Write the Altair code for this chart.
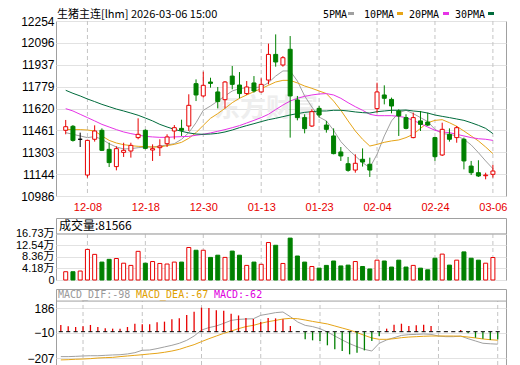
import altair as alt
import pandas as pd

# ---------------- data ----------------
dates = ["12-03", "12-04", "12-05", "12-08", "12-09", "12-10", "12-11", "12-12", "12-15", "12-16",
         "12-17", "12-18", "12-19", "12-22", "12-23", "12-24", "12-25", "12-26", "12-29", "12-30",
         "12-31", "01-05", "01-06", "01-07", "01-08", "01-09", "01-12", "01-13", "01-14", "01-15",
         "01-16", "01-19", "01-20", "01-21", "01-22", "01-23", "01-26", "01-27", "01-28", "01-29",
         "01-30", "02-02", "02-03", "02-04", "02-05", "02-06", "02-09", "02-10", "02-11", "02-12",
         "02-13", "02-24", "02-25", "02-26", "02-27", "03-02", "03-03", "03-04", "03-05", "03-06"]

open_ = [11462, 11491, 11397, 11138, 11397, 11462, 11324, 11199, 11302, 11312, 11409, 11462, 11319, 11336, 11365,
         11457, 11476, 11493, 11800, 11711, 11812, 11740, 11684, 11855, 11790, 11728, 11805, 11740, 11826, 12012,
         11935, 12049, 11682, 11554, 11493, 11621, 11500, 11421, 11305, 11220, 11174, 11252, 11216, 11619, 11718,
         11686, 11602, 11554, 11409, 11530, 11522, 11409, 11283, 11433, 11409, 11397, 11203, 11155, 11133, 11143]
high = [11537, 11500, 11445, 11394, 11498, 11476, 11372, 11346, 11372, 11372, 11549, 11469, 11360, 11397, 11433,
        11500, 11539, 11723, 11831, 11887, 11843, 11776, 11819, 11928, 11884, 11819, 11855, 11839, 12090, 12157,
        12000, 12145, 11711, 11578, 11614, 11638, 11530, 11476, 11341, 11269, 11288, 11331, 11264, 11807, 11788,
        11699, 11614, 11578, 11590, 11602, 11590, 11414, 11517, 11476, 11493, 11409, 11240, 11245, 11155, 11211]
low = [11433, 11380, 11341, 11119, 11380, 11312, 11196, 11172, 11269, 11264, 11397, 11324, 11240, 11276, 11341,
       11397, 11421, 11457, 11674, 11699, 11771, 11621, 11621, 11759, 11694, 11718, 11735, 11735, 11795, 11923,
       11923, 11409, 11534, 11440, 11486, 11554, 11445, 11288, 11240, 11162, 11155, 11199, 11124, 11590, 11650,
       11585, 11421, 11469, 11404, 11457, 11493, 11240, 11276, 11380, 11372, 11179, 11138, 11124, 11107, 11119]
close = [11488, 11389, 11397, 11389, 11457, 11317, 11228, 11329, 11317, 11353, 11433, 11331, 11329, 11348, 11414,
         11481, 11462, 11643, 11718, 11788, 11802, 11670, 11812, 11795, 11728, 11776, 11747, 11795, 12012, 11957,
         11988, 11711, 11554, 11474, 11597, 11573, 11469, 11293, 11276, 11172, 11223, 11232, 11174, 11740, 11694,
         11638, 11566, 11476, 11554, 11505, 11500, 11271, 11469, 11397, 11481, 11240, 11155, 11131, 11138, 11167]

ma5 = [11445, 11433, 11421, 11409, 11416, 11397, 11365, 11341, 11327, 11329, 11336, 11341, 11341, 11348, 11356,
       11365, 11397, 11445, 11517, 11607, 11638, 11674, 11711, 11747, 11764, 11771, 11771, 11776, 11807, 11855,
       11892, 11892, 11819, 11711, 11631, 11558, 11530, 11462, 11380, 11324, 11276, 11228, 11191, 11288, 11421,
       11530, 11590, 11607, 11583, 11554, 11525, 11469, 11438, 11433, 11421, 11397, 11356, 11300, 11240, 11184]
ma10 = [11469, 11467, 11467, 11464, 11457, 11421, 11389, 11370, 11358, 11351, 11346, 11344, 11341, 11341, 11351,
        11360, 11375, 11404, 11445, 11498, 11549, 11583, 11621, 11662, 11694, 11718, 11742, 11764, 11788, 11812,
        11824, 11824, 11805, 11783, 11766, 11747, 11728, 11674, 11607, 11530, 11457, 11397, 11348, 11360, 11375,
        11385, 11392, 11409, 11433, 11476, 11517, 11534, 11539, 11517, 11491, 11457, 11421, 11385, 11341, 11293]
ma20 = [11619, 11602, 11578, 11554, 11530, 11505, 11486, 11467, 11450, 11438, 11428, 11418, 11414, 11411, 11411,
        11414, 11416, 11418, 11426, 11433, 11443, 11455, 11467, 11481, 11496, 11515, 11534, 11554, 11578, 11612,
        11645, 11674, 11694, 11708, 11718, 11725, 11728, 11718, 11694, 11662, 11633, 11607, 11578, 11568, 11568,
        11568, 11563, 11554, 11534, 11510, 11486, 11462, 11450, 11445, 11433, 11421, 11409, 11401, 11397, 11389]
ma30 = [11752, 11730, 11711, 11689, 11670, 11650, 11633, 11616, 11602, 11587, 11571, 11551, 11530, 11505, 11486,
        11469, 11455, 11443, 11435, 11433, 11435, 11440, 11450, 11464, 11481, 11496, 11510, 11525, 11539, 11549,
        11561, 11573, 11583, 11592, 11597, 11602, 11602, 11607, 11607, 11602, 11595, 11590, 11587, 11597, 11602,
        11607, 11607, 11609, 11602, 11597, 11587, 11573, 11563, 11554, 11544, 11534, 11517, 11498, 11476, 11438]

volume = [30000, 30000, 32500, 111000, 93000, 65000, 75000, 78000, 61000, 53000,
          104000, 61000, 67000, 60000, 58000, 65000, 65000, 118000, 108000, 108000,
          82000, 90000, 82000, 105000, 90000, 53000, 65000, 57000, 136000, 126000,
          60000, 152000, 87000, 65000, 49000, 43000, 53000, 69000, 51000, 54000,
          67000, 49000, 40000, 72000, 69000, 47000, 72000, 47000, 53000, 43000,
          37000, 79000, 94000, 54000, 72000, 102000, 79000, 72000, 61000, 81566]

macd = [53, 42, 37, 42, 53, 37, 27, 24, 24, 37, 63, 58, 58, 74, 79, 97, 105, 131, 157, 189,
        186, 168, 165, 142, 128, 108, 100, 76, 108, 105, 97, 45, -3, -60, -68, -73, -107, -139, -152, -178,
        -165, -147, -73, -34, 24, 55, 63, 45, 50, 55, 45, -3, 3, 2, 13, -13, -47, -55, -65, -62]
dif = [-196, -196, -194, -191, -189, -189, -186, -183, -181, -175, -165, -146, -144, -133, -120, -107, -91, -68, -34, 13,
       32, 45, 66, 89, 97, 100, 102, 129, 139, 150, 155, 118, 76, 50, 40, 24, -2, -34, -65, -94,
       -118, -139, -152, -91, -65, -47, -29, -23, -21, -18, -21, -34, -39, -39, -34, -55, -73, -91, -95, -98]
dea = [-222, -220, -217, -215, -212, -207, -204, -202, -196, -191, -186, -181, -175, -170, -162, -152, -139, -120, -102, -78,
       -55, -34, -13, 5, 24, 40, 50, 66, 79, 89, 100, 105, 102, 92, 81, 71, 61, 45, 29, 13,
       -7, -29, -49, -60, -60, -55, -47, -42, -39, -36, -34, -34, -34, -34, -36, -42, -49, -57, -63, -67]

price_ticks = [10986, 11144, 11303, 11461, 11620, 11779, 11937, 12096, 12254]
vol_ticks = [0, 41800, 83600, 125400, 167300]
macd_ticks = [-207, -10, 186]
label_idx = [3, 11, 19, 27, 35, 43, 51, 59]
ma_names = ["5PMA", "10PMA", "20PMA", "30PMA"]

# ---------------- styling ----------------
RED = "#e80000"
GREEN = "#008000"
FRAME = "#a0a0a0"
GRID = "#e2e2e2"
VGRID = "#c4c4c4"
MA_COLORS = ["#a0a0a0", "#e6a417", "#e633e6", "#006b3c"]
W = 450

n = len(dates)
df = pd.DataFrame({"i": list(range(n)), "date": dates, "open": open_, "high": high,
                   "low": low, "close": close, "volume": volume,
                   "macd": macd})
df["dir"] = ["up" if c > o else ("down" if c < o else "flat") for o, c in zip(open_, close)]
df["vdir"] = ["down" if c < o else "up" for o, c in zip(open_, close)]
df["msign"] = ["pos" if m >= 0 else "neg" for m in macd]

ma_df = pd.concat([pd.DataFrame({"i": list(range(n)), "value": vals, "series": name})
                   for name, vals in zip(ma_names, [ma5, ma10, ma20, ma30])])
dd_df = pd.concat([pd.DataFrame({"i": list(range(n)), "value": dif, "series": "DIF"}),
                   pd.DataFrame({"i": list(range(n)), "value": dea, "series": "DEA"})])
grid_df = pd.DataFrame({"i": label_idx})
one = pd.DataFrame({"k": [0]})

xscale = alt.Scale(domain=[-0.65, 60.12], nice=False, zero=False)
label_expr = "[" + ",".join("'%s'" % d for d in dates) + "][datum.value]"
x_price = alt.X("i:Q", scale=xscale, title=None,
                axis=alt.Axis(values=label_idx, labelExpr=label_expr, labelColor=RED,
                              labelFont="Liberation Sans", labelFontSize=11, ticks=False,
                              domain=False, grid=False, labelPadding=5))
x_plain = alt.X("i:Q", scale=xscale, title=None, axis=None)

dir_stroke = alt.Scale(domain=["up", "down", "flat"], range=[RED, GREEN, "#000000"])
dir_fill = alt.Scale(domain=["up", "down", "flat"], range=["#ffffff", GREEN, "#000000"])

# ---------------- price panel ----------------
pscale = alt.Scale(domain=[price_ticks[0], price_ticks[-1]], nice=False, zero=False)
paxis = alt.Axis(values=price_ticks, format="d", ticks=False, domain=False, grid=True,
                 gridColor=GRID, labelFont="Liberation Sans", labelFontSize=12,
                 labelColor="#000", labelPadding=2, title=None, labelOverlap=False)

p_vgrid = alt.Chart(grid_df).mark_rule(color=VGRID, strokeDash=[4, 3]).encode(x=x_price)
p_water = alt.Chart(one).mark_text(font="Noto Sans CJK SC", fontSize=26, fontWeight="bold",
                                   color="#eeeeee", align="center", baseline="middle").encode(
    x=alt.value(210), y=alt.value(88), text=alt.value("东方财富"))
p_ma = alt.Chart(ma_df).mark_line(strokeWidth=1).encode(
    x=x_price, y=alt.Y("value:Q", scale=pscale, axis=paxis),
    color=alt.Color("series:N", scale=alt.Scale(domain=ma_names, range=MA_COLORS), legend=None),
    detail="series:N")
p_wick = alt.Chart(df).mark_rule(strokeWidth=1).encode(
    x=x_price, y=alt.Y("low:Q", scale=pscale, axis=paxis), y2="high:Q",
    stroke=alt.Stroke("dir:N", scale=dir_stroke, legend=None))
p_body = alt.Chart(df).mark_bar(size=4, strokeWidth=1).encode(
    x=x_price, y=alt.Y("open:Q", scale=pscale, axis=paxis), y2="close:Q",
    fill=alt.Fill("dir:N", scale=dir_fill, legend=None),
    stroke=alt.Stroke("dir:N", scale=dir_stroke, legend=None))

title_str = "生猪主连[lhm] 2026-03-06 15:00"
p_title = alt.Chart(one).mark_text(font="Noto Sans CJK SC", fontSize=11, color="#000",
                                   align="left", baseline="middle").encode(
    x=alt.value(1), y=alt.value(-6), text=alt.value(title_str))
legend_layers = []
leg_text_x = [267, 308, 353, 399]
leg_box_x = [292, 341, 387, 432]
for name, col, tx, bx in zip(ma_names, MA_COLORS, leg_text_x, leg_box_x):
    legend_layers.append(alt.Chart(one).mark_text(font="DejaVu Sans Mono", fontSize=10, color="#000",
                                                  align="left", baseline="middle").encode(
        x=alt.value(tx), y=alt.value(-6.5), text=alt.value(name)))
    legend_layers.append(alt.Chart(one).mark_rect(color=col).encode(
        x=alt.value(bx), x2=alt.value(bx + 6), y=alt.value(-9), y2=alt.value(-6)))

price = alt.layer(p_vgrid, p_water, p_ma, p_wick, p_body, p_title, *legend_layers).properties(
    width=W, height=175)

# ---------------- volume panel ----------------
vscale = alt.Scale(domain=[0, 225000], nice=False, zero=True)
vaxis = alt.Axis(values=vol_ticks, labelExpr="datum.value == 0 ? '0' : format(datum.value / 10000, '.2f') + '万'",
                 ticks=False, domain=False, grid=True, gridColor=GRID,
                 labelFont="Liberation Sans, Noto Sans CJK SC", labelFontSize=11,
                 labelColor="#000", labelPadding=2, title=None, labelOverlap=False)
v_vgrid = alt.Chart(grid_df).mark_rule(color=VGRID, strokeDash=[4, 3]).encode(
    x=x_plain, y=alt.YDatum(0, scale=vscale, axis=vaxis, title=None), y2=alt.datum(vol_ticks[-1]))
v_sep = alt.Chart(one).mark_rule(color=FRAME).encode(
    y=alt.YDatum(vol_ticks[-1], scale=vscale, axis=vaxis, title=None))
v_bars = alt.Chart(df).mark_bar(size=4, strokeWidth=1).encode(
    x=x_plain, y=alt.Y("volume:Q", scale=vscale, axis=vaxis),
    fill=alt.Fill("vdir:N", scale=dir_fill, legend=None),
    stroke=alt.Stroke("vdir:N", scale=dir_stroke, legend=None))
v_title = alt.Chart(one).mark_text(font="Noto Sans CJK SC", fontSize=12, color="#000",
                                   align="left", baseline="middle").encode(
    x=alt.value(3), y=alt.value(8), text=alt.value("成交量:%d" % volume[-1]))
vol = alt.layer(v_vgrid, v_sep, v_bars, v_title).properties(width=W, height=62)

# ---------------- MACD panel ----------------
mscale = alt.Scale(domain=[-262, 336], nice=False, zero=False)
maxis = alt.Axis(values=macd_ticks, ticks=False, domain=False, grid=True, gridColor=GRID,
                 labelFont="Liberation Sans", labelFontSize=12, labelColor="#000",
                 labelPadding=2, title=None, labelOverlap=False)
m_vgrid = alt.Chart(grid_df).mark_rule(color=VGRID, strokeDash=[4, 3]).encode(
    x=x_plain, y=alt.YDatum(-262, scale=mscale, axis=maxis, title=None), y2=alt.datum(241))
m_sep = alt.Chart(one).mark_rule(color=FRAME).encode(
    y=alt.YDatum(241, scale=mscale, axis=maxis, title=None))
m_hist = alt.Chart(df).mark_rule(strokeWidth=1.3).encode(
    x=x_plain, y=alt.Y("macd:Q", scale=mscale, axis=maxis), y2=alt.datum(0),
    stroke=alt.Stroke("msign:N", scale=alt.Scale(domain=["pos", "neg"], range=[RED, GREEN]), legend=None))
m_zero = alt.Chart(df).transform_calculate(x0="datum.i - 0.28", x1="datum.i + 0.28").mark_rule(
    color="#000", strokeWidth=1).encode(
    x=alt.X("x0:Q", scale=xscale, axis=None), x2="x1:Q",
    y=alt.YDatum(0, scale=mscale, axis=maxis, title=None))
m_lines = alt.Chart(dd_df).mark_line(strokeWidth=1).encode(
    x=x_plain, y=alt.Y("value:Q", scale=mscale, axis=maxis),
    color=alt.Color("series:N", scale=alt.Scale(domain=["DIF", "DEA"], range=["#a0a0a0", "#e6a817"]),
                    legend=None),
    detail="series:N")
m_texts = []
for txt, col, tx in [("MACD_DIF:%d" % dif[-1], "#999999", 2),
                     ("MACD_DEA:%d" % dea[-1], "#e0a000", 80),
                     ("MACD:%d" % macd[-1], "#e000e0", 158)]:
    m_texts.append(alt.Chart(one).mark_text(font="DejaVu Sans Mono", fontSize=10, color=col,
                                            align="left", baseline="middle").encode(
        x=alt.value(tx), y=alt.value(6), text=alt.value(txt)))
macd_chart = alt.layer(m_vgrid, m_sep, m_lines, m_hist, m_zero, *m_texts).properties(width=W, height=76)

chart = alt.vconcat(
    price,
    alt.vconcat(vol, macd_chart, spacing=9, bounds="flush"),
    spacing=22, bounds="flush",
).properties(
    padding={"left": 6, "top": 0, "right": 0, "bottom": 0},
    background="#ffffff",
).configure_view(stroke=FRAME, strokeWidth=1)

chart.save("out.html", embed_options={"renderer": "svg", "actions": False})
